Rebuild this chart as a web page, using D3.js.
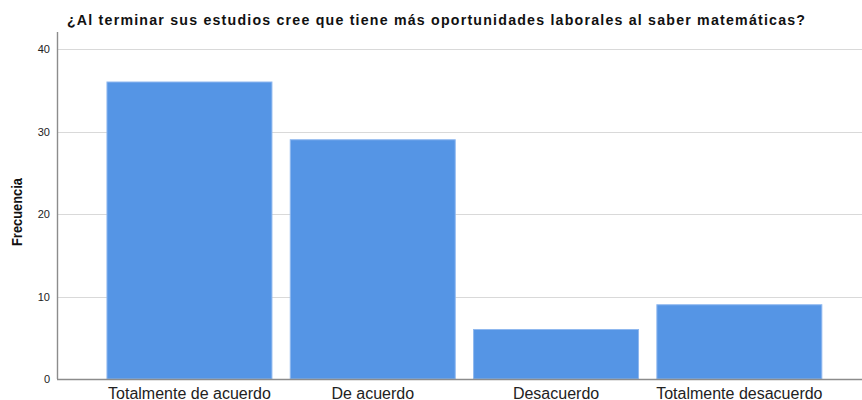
<!DOCTYPE html>
<html>
<head>
<meta charset="utf-8">
<script src="https://cdn.jsdelivr.net/npm/d3@7"></script>
<style>
  body { margin: 0; background: #fff; }
  svg { display: block; font-family: "Liberation Sans", Arial, sans-serif; }
</style>
</head>
<body>
<svg id="chart" width="862" height="400"></svg>
<script>
// Survey answers and their frequencies
const categories = ["Totalmente de acuerdo", "De acuerdo", "Desacuerdo", "Totalmente desacuerdo"];
const frequencies = [36, 29, 6, 9];
const yTicks = [0, 10, 20, 30, 40];
const title = "¿Al terminar sus estudios cree que tiene más oportunidades laborales al saber matemáticas?";
const yTitle = "Frecuencia";

const svg = d3.select("#chart");
const plot = { left: 57, right: 862, top: 32, bottom: 379 };

const x = d3.scaleBand()
  .domain(categories)
  .range([97.8, 831])
  .paddingInner(0.1)
  .paddingOuter(0.05);

const y = d3.scaleLinear()
  .domain([0, 40])
  .range([plot.bottom, 49]);

// horizontal gridlines
svg.append("g")
  .selectAll("line")
  .data(yTicks.filter(d => d > 0))
  .join("line")
  .attr("x1", plot.left)
  .attr("x2", plot.right)
  .attr("y1", d => Math.round(y(d)) + 0.5)
  .attr("y2", d => Math.round(y(d)) + 0.5)
  .attr("stroke", "#d9d9d9")
  .attr("stroke-width", 1.2);

// bars
svg.append("g")
  .selectAll("rect")
  .data(frequencies)
  .join("rect")
  .attr("x", (d, i) => x(categories[i]))
  .attr("width", x.bandwidth())
  .attr("y", d => y(d))
  .attr("height", d => y(0) - y(d))
  .attr("fill", "#5595e5")
  .attr("stroke", "#8fb8ef")
  .attr("stroke-width", 1);

// y axis
const yAxis = d3.axisLeft(y).tickValues(yTicks).tickSize(0).tickPadding(7);
const gy = svg.append("g")
  .attr("transform", `translate(${plot.left},0)`)
  .call(yAxis);
gy.select(".domain").remove();
gy.selectAll("text")
  .attr("font-size", 11)
  .attr("font-family", "Liberation Sans, Arial, sans-serif")
  .attr("fill", "#222");

svg.append("line")
  .attr("x1", plot.left + 0.5).attr("x2", plot.left + 0.5)
  .attr("y1", plot.top).attr("y2", plot.bottom)
  .attr("stroke", "#8c8c8c").attr("stroke-width", 1.4);

// x axis
const xAxis = d3.axisBottom(x).tickSize(0);
const gx = svg.append("g")
  .attr("transform", `translate(0,${plot.bottom})`)
  .call(xAxis);
gx.select(".domain").remove();
gx.selectAll("text")
  .attr("y", 19.5)
  .attr("dy", null)
  .attr("font-size", 16)
  .attr("font-family", "Liberation Sans, Arial, sans-serif")
  .attr("fill", "#222");

svg.append("line")
  .attr("x1", plot.left).attr("x2", plot.right)
  .attr("y1", plot.bottom + 0.5).attr("y2", plot.bottom + 0.5)
  .attr("stroke", "#8c8c8c").attr("stroke-width", 1.4);

// titles
svg.append("text")
  .attr("x", 67)
  .attr("y", 25)
  .attr("font-size", 14.2)
  .attr("font-weight", "bold")
  .attr("fill", "#111")
  .attr("textLength", 738)
  .attr("lengthAdjust", "spacing")
  .text(title);

svg.append("text")
  .attr("transform", "translate(22,212) rotate(-90)")
  .attr("text-anchor", "middle")
  .attr("font-size", 14.5)
  .attr("font-weight", "bold")
  .attr("fill", "#111")
  .attr("textLength", 68)
  .attr("lengthAdjust", "spacingAndGlyphs")
  .text(yTitle);
</script>
</body>
</html>
